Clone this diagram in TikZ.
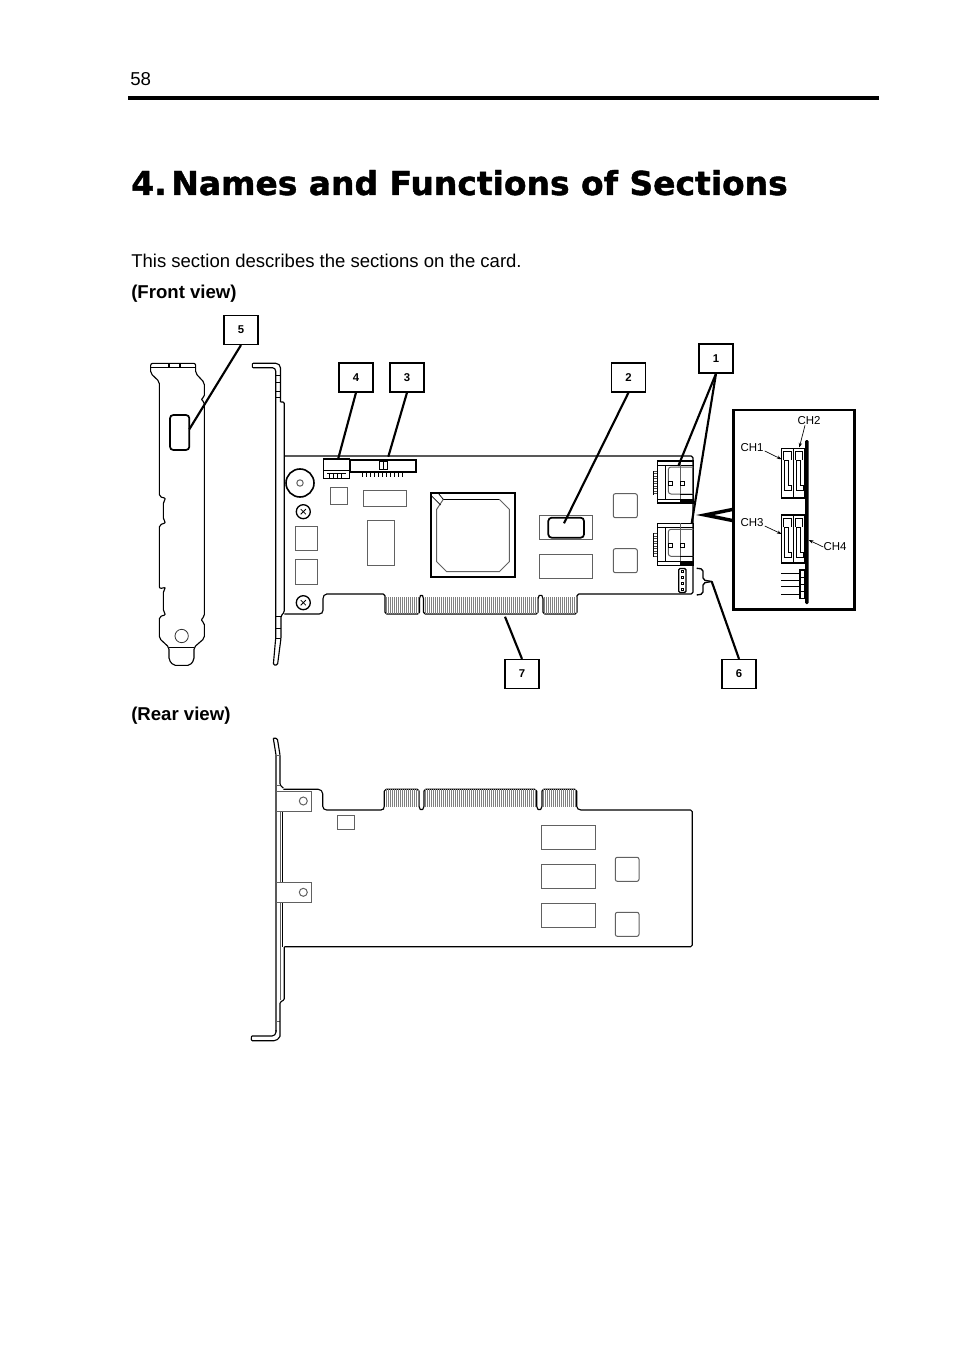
\documentclass[tikz,border=0pt]{standalone}
\usepackage{fontspec}
\setmainfont{Liberation Sans}
\newfontfamily\titlefont[FakeBold=1.3]{DejaVu Sans Bold}
\usetikzlibrary{arrows.meta}
\tikzset{
  px/.style={x=0.75pt,y=-0.75pt},
  edge/.style={line width=0.85pt,black,line join=round},
  soft/.style={line width=0.75pt,black!62},
  fine/.style={line width=0.55pt,black},
  heavy/.style={line width=1.8pt,black},
  leader/.style={line width=1.6pt,black},
  chiparrow/.style={line width=0.5pt,black,-{Stealth[length=3.5pt,width=2.5pt]}},
  numbox/.style={draw=black,line width=1.1pt,fill=white,minimum width=25.5pt,minimum height=21.5pt,inner sep=0pt,font=\fontsize{8.5}{10}\selectfont\bfseries},
  label/.style={anchor=base west,inner sep=0pt},
  chlabel/.style={anchor=center,inner sep=0pt,font=\fontsize{8.6}{10}\selectfont},
  hatchline/.style={line width=0.5pt,black!50}
}
\newcommand{\softbox}[4]{\draw[soft] (#1,#2) rectangle (#3,#4);}
\newcommand{\softround}[4]{\draw[soft,rounded corners=1.5pt] (#1,#2) rectangle (#3,#4);}
\newcommand{\screwmark}[2]{%
  \draw[line width=1pt] (#1,#2) circle (7);
  \draw[fine] (#1-2.6,#2-2.6) -- (#1+2.6,#2+2.6) (#1-2.6,#2+2.6) -- (#1+2.6,#2-2.6);}
\newcommand{\sataconn}[2]{%
  \begin{scope}[shift={(#1,#2)}]
    \draw[line width=1.1pt] (0,0) rectangle (36,42);
    \draw[fine] (0,4) -- (36,4) (8,4) -- (8,38) (0,38) -- (36,38);
    \draw[soft,rounded corners=2pt] (36,6) -- (11,6) -- (11,33) -- (36,33);
    \draw[soft] (23,0) -- (23,42);
    \draw[fine] (11,20) rectangle (15.5,24.5) (23,20) rectangle (27.5,24.5);
    \fill (23,38) rectangle (36,42);
    \draw[fine] (23,33) -- (36,33);
    \foreach \k in {10,12.5,...,34} {\draw[line width=0.4pt,black!70] (-4,\k) -- (0,\k);}
    \draw[fine] (-4,10) -- (-4,34);
  \end{scope}}
\newcommand{\sideconn}[3]{%
  \begin{scope}[shift={(#1,#2)}]
    \draw[line width=0.9pt] (0,0) rectangle (11.7,#3);
    \draw[line width=1.4pt] (0,#3) -- (11.7,#3);
    \draw[fine] (2,12) -- (2,3) -- (9.5,3) -- (9.5,12);
    \draw[fine] (3,12) -- (7,12) -- (7,37) -- (10,37) -- (10,42) -- (3,42) -- cycle;
  \end{scope}}
\begin{document}
\begin{tikzpicture}[px]
\useasboundingbox (0,0) rectangle (954,1351);
\fill[white] (0,0) rectangle (954,1351);

% --- page text
\node[label,font=\fontsize{14}{16}\selectfont] (pageno) at (130,85.5) {58};
\fill (128,96) rectangle (879,100);
\node[label] (title) at (131,195) {\titlefont\fontsize{24.7}{28}\selectfont 4.\hspace{3.5pt}Names and Functions of Sections};
\node[label,font=\fontsize{13.9}{16}\selectfont] (intro) at (131,267.5) {This section describes the sections on the card.};
\node[label,font=\fontsize{13.95}{16}\selectfont\bfseries] (frontlab) at (131,298.5) {(Front view)};
\node[label,font=\fontsize{13.95}{16}\selectfont\bfseries] (rearlab) at (131,720) {(Rear view)};

% --- flat bracket, left
\begin{scope}[shift={(130,310)},x=0.25pt,y=-0.25pt]
  \draw[edge,rounded corners=1.5pt] (62,160) -- (197,160) -- (197,190) -- (223,218) -- (223,262) -- (212,268) -- (223,275)
    -- (223,920) -- (212,930) -- (223,938) -- (223,985) -- (192,1012) -- (192,1050) -- (180,1066) -- (130,1066) -- (117,1050) -- (117,1012)
    -- (88,985) -- (88,920) -- (108,914) -- (100,905) -- (100,842) -- (108,832) -- (88,836) -- (88,645) -- (108,638) -- (100,630) -- (100,575) -- (108,565) -- (88,560)
    -- (88,215) -- (62,190) -- cycle;
  \draw[edge] (62,172) -- (197,172) (117,160) -- (117,172) (150,160) -- (150,172) (117,1012) -- (192,1012);
  \draw[line width=1.3pt,rounded corners=2.5pt] (120,315) rectangle (178,420);
  \draw[line width=0.6pt,black!80] (155,978) circle (20);
\end{scope}

% --- front card, mounting plate
\draw[edge,rounded corners=2.5pt] (275.7,638) -- (275.7,367.7) -- (253,367.7);
\draw[edge,rounded corners=1.5pt] (253,367.7) -- (251,365.5) -- (253,363.3);
\draw[edge,rounded corners=3.5pt] (253,363.3) -- (280.5,363.3) -- (280.5,402);
\draw[edge,rounded corners=1pt] (280.5,402) -- (284.3,402) -- (284.3,612) -- (281,616) -- (281,638) -- (277.5,665) -- (273.3,665) -- (275.7,638);
\draw[fine] (275.7,375) -- (280.5,375) (275.7,382) -- (280.5,382) (275.7,391) -- (280.5,391) (275.7,397) -- (280.5,397);
\draw[fine] (275.7,628) -- (281,628) (275.7,638) -- (281,638) (275.7,616) -- (281,616);

% --- front card outline
\draw[edge,rounded corners=1.3pt] (284.3,456) -- (693,456) -- (693,594) -- (577,594) -- (577,614) -- (543,614) -- (543,597) -- (540.5,594) -- (538,597) -- (538,614) -- (423.5,614) -- (423.5,597) -- (421.5,594) -- (419.5,597) -- (419.5,614) -- (385,614) -- (385,594) -- (325,594) -- (323,597) -- (323,612) -- (321,614) -- (284.3,614);
\foreach \k in {386,388,...,418} {\draw[hatchline] (\k,597) -- (\k,614);}
\foreach \k in {425,427,...,537} {\draw[hatchline] (\k,597) -- (\k,614);}
\foreach \k in {544,546,...,576} {\draw[hatchline] (\k,597) -- (\k,614);}

% --- front card parts
\draw[line width=1.2pt] (300,483) circle (14);
\draw[soft] (300,483) circle (3.2);
\screwmark{303.3}{511.7}
\screwmark{303.3}{602.7}
\softbox{295}{526}{317}{550}
\softbox{295}{559.3}{317}{584.3}
\softbox{330}{487.3}{347.7}{504.3}
\softbox{363.3}{490}{406.7}{506.7}
\softbox{367}{520.7}{394.7}{565.7}
% connector 4
\draw[line width=1.1pt] (323.3,459) rectangle (349.3,478.3);
\draw[line width=0.9pt] (323.3,470.5) -- (349.3,470.5);
\draw[fine] (327,473) -- (346,473) (329,473) -- (329,478) (333,473) -- (333,478) (337,473) -- (337,478) (341,473) -- (341,478);
% connector 3
\draw[line width=1.4pt] (349.8,460) rectangle (416,472);
\draw[fine] (379.3,461) rectangle (387.3,469.3) (383.3,461) -- (383.3,469.3);
\foreach \k in {362.7,366.7,...,403} {\draw[fine] (\k,472.7) -- (\k,477);}
% main chip
\draw[line width=1.4pt] (430.7,492.7) rectangle (515,576.7);
\draw[fine] (443.3,499.3) -- (499.3,499.3);
\draw[soft] (499.3,499.3) -- (509.3,509.3) -- (509.3,561.7) -- (499.3,571.7) -- (446.7,571.7) -- (436.7,561.7) -- (436.7,509.3) -- (443.3,499.3);
\draw[fine] (431.7,496) -- (440.7,505) (438.3,493.3) -- (443.3,499.3);
% memory and others
\softbox{539}{515.3}{592.7}{539.3}
\draw[line width=1.3pt,rounded corners=2.5pt] (548.3,517.7) rectangle (584,537.7);
\softbox{539}{554.7}{592.7}{578.3}
\softround{613.3}{493.7}{637.3}{517.7}
\softround{613.3}{548.7}{637.3}{572.7}
\sataconn{657.3}{461}
\sataconn{657.3}{523.3}
% 4-pin header
\draw[line width=1pt,rounded corners=1pt] (678.7,568.5) rectangle (686,592.5);
\foreach \k in {571.5,577.5,583.5,589.5} {\draw[line width=0.5pt] (681,\k-1.2) rectangle (683.8,\k+1.2);}
% brace
\coordinate (brace6) at (711.7,581.5);
\draw[line width=1pt,rounded corners=1.5pt] (696.7,568.3) -- (703,569) -- (703,580) -- (brace6);
\draw[line width=1pt,rounded corners=1.5pt] (696.7,595) -- (703,594) -- (703,583) -- (brace6);

% --- callout
\draw[line width=2.2pt,line join=miter] (733.5,410) rectangle (854.5,609.5);
\fill[black] (733.5,507.5) -- (696,515) -- (733.5,522.5) -- (733.5,519) -- (714,515) -- (733.5,511) -- cycle;
\fill[rounded corners=1pt] (805,440) rectangle (808.7,604);
\sideconn{781.7}{448.3}{50}
\sideconn{793.3}{448.3}{50}
\sideconn{781.7}{515}{48.3}
\sideconn{793.3}{515}{48.3}
\draw[line width=0.9pt] (800,570) rectangle (805,598.3);
\foreach \k in {577,584,591} {\draw[fine] (800,\k) -- (805,\k);}
\foreach \k in {573.3,580,586.7,594} {\draw[fine] (781,\k) -- (800,\k);}
\node[chlabel] (ch1) at (752,448) {CH1};
\node[chlabel] (ch2) at (809,421) {CH2};
\node[chlabel] (ch3) at (752,523) {CH3};
\node[chlabel] (ch4) at (835,547) {CH4};
\coordinate (p1) at (781.7,459.3);
\coordinate (p2) at (799.3,447.5);
\coordinate (p3) at (781.7,534);
\coordinate (p4) at (808.7,540);
\draw[chiparrow] (ch1.east) ++(1,3) -- (p1);
\draw[chiparrow] (ch2.south) ++(-4,0) -- (p2);
\draw[chiparrow] (ch3.east) ++(1,3) -- (p3);
\draw[chiparrow] (ch4.west) -- (p4);

% --- numbered boxes and leaders
\node[numbox] (b5) at (241,330) {5};
\node[numbox] (b4) at (356,377.5) {4};
\node[numbox] (b3) at (407,377.5) {3};
\node[numbox] (b2) at (628.5,377.5) {2};
\node[numbox] (b1) at (716,358.5) {1};
\node[numbox] (b7) at (522,674) {7};
\node[numbox] (b6) at (739,674) {6};
\coordinate (t5) at (189.3,429.3);
\coordinate (t4) at (338.3,458.3);
\coordinate (t3) at (388.3,456.7);
\coordinate (t2) at (564,523.3);
\coordinate (t1a) at (678.3,466);
\coordinate (t1b) at (691.7,523.3);
\coordinate (t7) at (505,616.7);
\draw[leader] (b5.south) -- (t5);
\draw[leader] (b4.south) -- (t4);
\draw[leader] (b3.south) -- (t3);
\draw[leader] (b2.south) -- (t2);
\draw[leader] (b1.south) -- (t1a);
\draw[leader] (b1.south) -- (t1b);
\draw[leader] (b7.north) -- (t7);
\draw[leader] (b6.north) -- (brace6);

% --- rear view plate
\draw[edge,rounded corners=1pt] (273.3,738.3) -- (277.3,738.3) -- (280,755) -- (280,785) -- (283.3,788);
\draw[edge] (273.3,738.3) -- (276,755) -- (276,1031.5);
\draw[soft] (276,755) -- (280,755) (276,785) -- (280,785) (276,1021) -- (280,1021);
\draw[soft] (280,811) -- (280,882) (280,902) -- (280,1000);
\draw[edge] (282.7,811) -- (282.7,882) (282.7,902) -- (282.7,947);
\draw[edge,rounded corners=1pt] (284.3,947) -- (284.3,1000) -- (280,1002) -- (280,1036);
\draw[edge,rounded corners=3pt] (280,1036) -- (278,1040.7) -- (252,1040.7);
\draw[edge,rounded corners=1pt] (252,1040.7) -- (250.7,1038) -- (252,1036);
\draw[edge,rounded corners=3pt] (252,1036) -- (276,1036) -- (276,1030);

% --- rear card outline
\draw[edge,rounded corners=1.3pt] (283.3,789.3) -- (320,789.3) -- (322.7,792) -- (322.7,808) -- (325,810) -- (382.7,810) -- (384.3,808) -- (384.3,789.3) -- (419,789.3) -- (419,808) -- (421.5,810.7) -- (424,808) -- (424,789.3) -- (536.7,789.3) -- (536.7,808) -- (539.3,810.7) -- (542,808) -- (542,789.3) -- (576.7,789.3) -- (576.7,808) -- (579.3,810) -- (692.3,810) -- (692.3,946.8) -- (284.3,946.8);
\foreach \k in {386,388,...,418} {\draw[hatchline] (\k,789.3) -- (\k,807);}
\foreach \k in {425,427,...,536} {\draw[hatchline] (\k,789.3) -- (\k,807);}
\foreach \k in {543,545,...,576} {\draw[hatchline] (\k,789.3) -- (\k,807);}
\draw[soft] (276,791) -- (311.7,791) -- (311.7,811) -- (276,811);
\draw[soft] (276,882.3) -- (311.7,882.3) -- (311.7,902.3) -- (276,902.3);
\draw[soft] (303.3,801) circle (4);
\draw[soft] (303.3,892.3) circle (4);
\softbox{337.3}{815}{354.3}{829.3}
\softbox{541.7}{825.3}{595.3}{849.3}
\softbox{541.7}{864.3}{595.3}{888.3}
\softbox{541.7}{903.7}{595.3}{927.7}
\softround{615.3}{857.3}{639}{881.3}
\softround{615.3}{912.3}{639}{936.3}
\end{tikzpicture}
\end{document}
